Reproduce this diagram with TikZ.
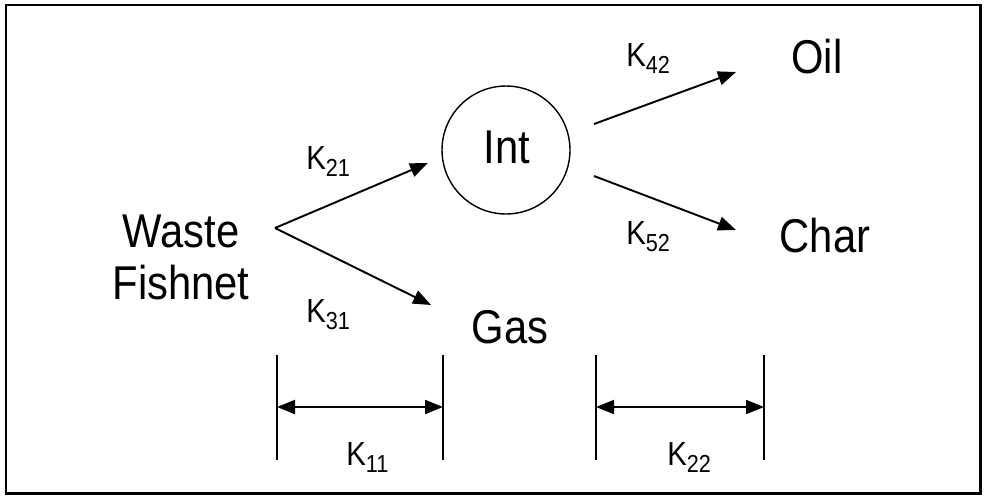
\documentclass[tikz,border=0pt]{standalone}
\usepackage{fontspec}
\setmainfont{Liberation Sans}[FakeStretch=0.88]
\usetikzlibrary{arrows.meta,positioning}

% rate constant with a lowered index
\newcommand{\rateK}[1]{K\raisebox{-0.45ex}{\fontsize{14}{14}\selectfont #1}}

\begin{document}
\begin{tikzpicture}[
    x=0.02cm, y=-0.02cm,
    species/.style={font=\fontsize{27}{29.6}\selectfont, align=center, inner sep=0pt, anchor=base},
    rateLabel/.style={font=\fontsize{19}{19}\selectfont, inner sep=0pt, anchor=base west},
    flow/.style={-{Triangle[length=3.6mm, width=2.8mm]}, line width=1.1pt},
    span/.style={{Triangle[length=3.6mm, width=2.8mm]}-{Triangle[length=3.6mm, width=2.8mm]}, line width=1.1pt},
    tick/.style={line width=1pt},
  ]

\useasboundingbox (0,0) rectangle (986,498);

% ---- outer frame ------------------------------------------------------
\draw[line width=1.7pt] (6,5) rectangle (980,493);

% ---- species ------------------------------------------------------------
\node[species] (fishnet) at (181,299) {Waste\\Fishnet};
\node[species, draw, circle, minimum size=2.56cm, line width=0.8pt, anchor=center]
      (int) at (506,150) {};
\node[species] (intText) at (507,163) {Int};
\node[species] (oil)  at (817,73)  {Oil};
\node[species] (char) at (825,252) {Char};
\node[species] (gas)  at (510,343) {Gas};

% ---- arrow ends ---------------------------------------------------------
\coordinate (fork)     at (275,228);
\coordinate (intIn)    at (428,163);
\coordinate (gasIn)    at (431,305);
\coordinate (oilFrom)  at (594,124);
\coordinate (oilIn)    at (736,72);
\coordinate (charFrom) at (594,176);
\coordinate (charIn)   at (736,230);

\draw[flow] (fork) -- (intIn);
\draw[flow] (fork) -- (gasIn);
\draw[flow] (oilFrom) -- (oilIn);
\draw[flow] (charFrom) -- (charIn);

% ---- rate constants ---------------------------------------------------
\node[rateLabel] (k21) at (306,169) {\rateK{21}};
\node[rateLabel] (k31) at (306,322) {\rateK{31}};
\node[rateLabel] (k42) at (626,66)  {\rateK{42}};
\node[rateLabel] (k52) at (626,244) {\rateK{52}};

% ---- time spans at the bottom -----------------------------------------
\coordinate (s1top) at (277,355); \coordinate (s1bot) at (277,460);
\coordinate (s2top) at (443,355); \coordinate (s2bot) at (443,460);
\coordinate (s3top) at (596,355); \coordinate (s3bot) at (596,460);
\coordinate (s4top) at (764,355); \coordinate (s4bot) at (764,460);
\foreach \s in {s1,s2,s3,s4}
  \draw[tick] (\s top) -- (\s bot);

\coordinate (k11L) at (277,407); \coordinate (k11R) at (443,407);
\coordinate (k22L) at (596,407); \coordinate (k22R) at (764,407);
\draw[span] (k11L) -- (k11R);
\draw[span] (k22L) -- (k22R);

\node[rateLabel] (k11) at (346,465) {\rateK{11}};
\node[rateLabel] (k22) at (667,465) {\rateK{22}};

\end{tikzpicture}
\end{document}
